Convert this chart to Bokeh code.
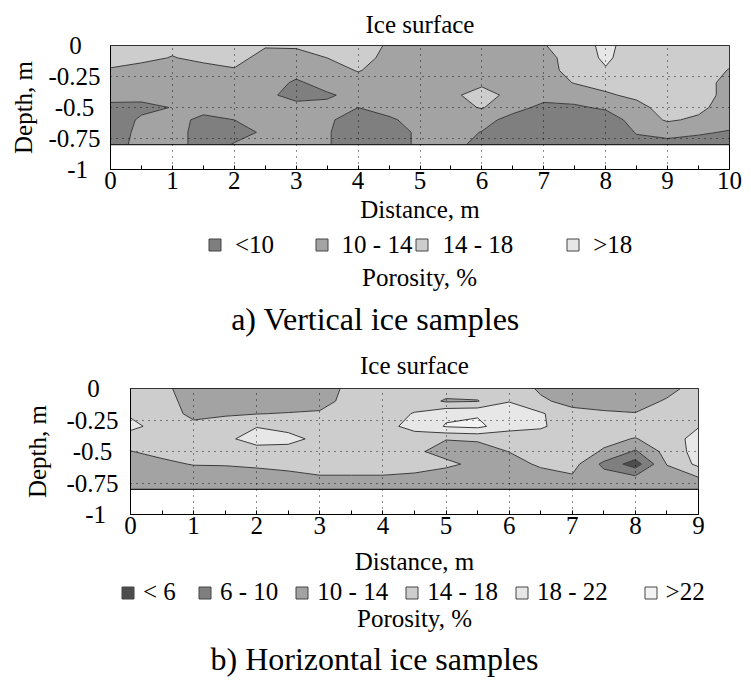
import numpy as np
from bokeh.plotting import figure
from bokeh.models import (Range1d, FixedTicker, Legend, LegendItem, Label)
from bokeh.embed import file_html
from bokeh.resources import INLINE

FONT = "Liberation Serif"
NBSP = "\u00a0"
PAGE_W = 751

# ---------------- Panel a: vertical ice samples ----------------
distance_a = [0, 0.5, 1, 1.5, 2, 2.5, 3, 3.5, 4, 4.5, 5, 5.5, 6, 6.5, 7,
              7.5, 8, 8.5, 9, 9.5, 10]
depth_a = [0, 0.1, 0.2, 0.3, 0.4, 0.5, 0.6, 0.7, 0.8]
# porosity (%) profiles, one list per distance, top -> bottom
porosity_a_cols = [
    [16, 16, 13.5, 12, 11, 9.3, 8, 8, 8],
    [16, 15, 12.5, 12, 11, 9.2, 10.5, 11, 11.5],
    [15, 13.8, 12.5, 12, 11.5, 10.1, 11, 11.5, 11.5],
    [16, 15, 12.5, 12, 12, 11, 9.3, 8.5, 8.5],
    [16, 16, 13.5, 12, 12, 11.5, 10, 9, 10.2],
    [14.5, 12, 12, 12, 12, 11.5, 10.8, 10.4, 11],
    [14.5, 12.5, 11.5, 9.4, 7, 13, 12, 11.5, 11.5],
    [16, 14, 12, 11.5, 9.5, 11, 10.5, 10.3, 10.3],
    [16, 16, 14.3, 12, 11.2, 10, 8.5, 8, 8],
    [13.5, 12.5, 12, 12, 11.8, 11, 9.6, 9, 9],
    [13, 12.5, 12, 12, 12, 12, 11, 10.4, 10.4],
    [13, 12.5, 12, 12, 13, 12.5, 11.5, 11, 11],
    [13, 12.5, 12, 13, 16, 14.3, 11, 9.9, 9],
    [13, 12.5, 12, 12, 12.5, 11, 9, 8, 8],
    [13.8, 12.5, 12, 12, 11, 9.3, 8, 7.5, 7.5],
    [16, 16, 16, 14.2, 11.5, 9.5, 8, 7.5, 7.5],
    [19, 18.6, 17.7, 15.5, 13.4, 10.5, 8, 7.5, 7.5],
    [16, 16, 16, 16, 15, 12.5, 11.5, 10.2, 9],
    [16, 16, 16, 16, 16, 16, 14.5, 11, 9],
    [16, 16, 16, 16, 16, 15, 13.3, 10.3, 9],
    [16, 15, 13.8, 12.5, 12.5, 12, 11, 9.8, 9],
]
levels_a = [0, 10, 14, 18, 40]
classes_a = ["<10", "10 - 14", "14 - 18", ">18"]
colors_a = ["#7f7f7f", "#a3a3a3", "#cdcdcd", "#e7e7e7"]

# ---------------- Panel b: horizontal ice samples ----------------
distance_b = [0, 0.5, 1, 1.5, 2, 2.5, 3, 3.5, 4, 4.5, 5, 5.5, 6, 6.5, 7,
              7.5, 8, 8.5, 9]
depth_b = [0, 0.1, 0.2, 0.3, 0.4, 0.5, 0.6, 0.7, 0.8]
porosity_b_cols = [
    [16, 16, 17.5, 19, 16, 13.9, 12, 12, 12],
    [15, 15.5, 16, 16.5, 16, 15, 13.2, 12, 12],
    [12, 12.5, 13, 15, 16, 16, 14.2, 12, 12],
    [12, 12, 13.5, 16, 17, 16, 14.3, 12, 12],
    [12, 12, 13.9, 17.8, 20, 16, 14.9, 12, 12],
    [12, 12, 14.2, 16.5, 19.5, 16, 15.2, 13, 12],
    [12, 12.5, 14.5, 16, 16.7, 16, 15.5, 13.8, 12],
    [15.1, 15.5, 16, 16, 16, 16, 15.5, 13.8, 12],
    [16, 16, 16.5, 17, 16, 16, 15.5, 13.8, 12],
    [16, 16.5, 18.2, 19, 16.5, 15, 15.2, 13.5, 12],
    [16, 13.5, 21.2, 22.3, 14.2, 12, 15.3, 11, 12],
    [16, 13.8, 21.5, 23, 14.6, 12, 12.5, 12, 12],
    [16, 17.8, 20.5, 19.5, 15.5, 14.1, 12, 12, 12],
    [13.5, 14.5, 18.5, 18.5, 16, 16, 14.8, 12, 12],
    [12, 13, 15, 16, 16, 16, 15.5, 13.6, 12],
    [12, 12.5, 14.5, 16, 15, 13.6, 9, 11.5, 12],
    [12, 12, 14.2, 16, 13.8, 9.5, 4, 10.5, 12],
    [12.5, 14.5, 16, 16, 16, 15.5, 14.2, 12, 12],
    [16, 16, 16, 17.8, 19.5, 19.5, 19, 14.1, 12],
]
levels_b = [0, 6, 10, 14, 18, 22, 40]
classes_b = ["< 6", "6 - 10", "10 - 14", "14 - 18", "18 - 22", ">22"]
colors_b = ["#4d4d4d", "#7f7f7f", "#a3a3a3", "#cdcdcd", "#e7e7e7", "#f3f3f3"]

depth_ticks = [0, -0.25, -0.5, -0.75, -1]
depth_tick_labels = ["0", "-0.25", "-0.5", "-0.75", "-1"]
# trailing padding so that the right-aligned labels sit centred as in the original
depth_label_pad = [3, 0, 1, 0, 2]


def make_panel(distance, depth, cols, levels, colors, x_max,
               frame_w, frame_h, border_left, border_top, border_bottom,
               title_standoff, ylabel_standoff, xlabel_standoff, ytick_standoff):
    p = figure(output_backend="svg", toolbar_location=None,
               frame_width=frame_w, frame_height=frame_h,
               min_border_left=border_left,
               min_border_right=PAGE_W - border_left - frame_w,
               min_border_top=border_top, min_border_bottom=border_bottom,
               x_range=Range1d(0, x_max), y_range=Range1d(-1, 0),
               title="Ice surface")
    p.background_fill_color = "white"
    p.border_fill_color = "white"
    p.outline_line_color = "black"
    p.outline_line_width = 1

    p.title.align = "center"
    p.title.text_font = FONT
    p.title.text_font_size = "25px"
    p.title.text_font_style = "normal"
    p.title.text_color = "black"
    p.title.standoff = title_standoff

    x = np.array(distance, dtype=float)
    y = -np.array(depth, dtype=float)[::-1]
    z = np.array(cols, dtype=float).T[::-1, :]
    p.contour(x=x, y=y, z=z, levels=levels, fill_color=colors,
              line_color="#3a3a3a", line_width=1)
    p.line(x=[distance[0], distance[-1]], y=[-depth[-1], -depth[-1]],
           line_color="#222222", line_width=1.2)

    xt = list(range(0, int(x_max) + 1))
    p.xaxis.ticker = FixedTicker(ticks=xt, minor_ticks=[t + 0.5 for t in xt[:-1]])
    p.yaxis.ticker = FixedTicker(ticks=depth_ticks)
    p.yaxis.major_label_overrides = {
        t: lab + NBSP * n
        for t, lab, n in zip(depth_ticks, depth_tick_labels, depth_label_pad)}
    for ax in (p.xaxis[0], p.yaxis[0]):
        ax.major_label_text_font = FONT
        ax.major_label_text_font_size = "25px"
        ax.axis_label_text_font = FONT
        ax.axis_label_text_font_size = "25px"
        ax.axis_label_text_font_style = "normal"
        ax.axis_line_color = "black"
        ax.major_label_text_color = "black"
        ax.axis_label_text_color = "black"
    p.xaxis.axis_label = "Distance, m"
    p.yaxis.axis_label = "Depth, m"
    p.xaxis.major_tick_in = 4
    p.xaxis.major_tick_out = 0
    p.xaxis.minor_tick_in = 4
    p.xaxis.minor_tick_out = 0
    p.xaxis.major_tick_line_color = "black"
    p.xaxis.minor_tick_line_color = "black"
    p.xaxis.major_label_standoff = 2
    p.xaxis.axis_label_standoff = xlabel_standoff
    p.yaxis.major_tick_in = 0
    p.yaxis.major_tick_out = 0
    p.yaxis.minor_tick_line_color = None
    p.yaxis.major_label_standoff = ytick_standoff
    p.yaxis.axis_label_standoff = ylabel_standoff

    for g in (p.xgrid[0], p.ygrid[0]):
        g.grid_line_color = "black"
        g.grid_line_dash = "1 5"
        g.grid_line_width = 1
        g.grid_line_alpha = 0.85
        g.level = "overlay"
    return p


def make_strip(height, classes, colors, leg_x, leg_center, leg_standoff,
               leg_label_w, leg_spacing, por_x, por_y, caption, cap_x, cap_y):
    s = figure(output_backend="svg", toolbar_location=None,
               width=PAGE_W, height=height, min_border=0,
               x_axis_type=None, y_axis_type=None,
               x_range=Range1d(0, 1), y_range=Range1d(0, 1))
    s.outline_line_color = None
    s.background_fill_color = "white"
    s.border_fill_color = "white"
    items = []
    for lab, col in zip(classes, colors):
        # legend proxy, kept outside the visible range
        r = s.quad(left=[-3], right=[-2], top=[-2], bottom=[-3], fill_color=col,
                   line_color="#454545", line_width=1)
        items.append(LegendItem(label=lab, renderers=[r]))
    item_h = 26
    leg = Legend(items=items, location=(leg_x, height - leg_center - item_h / 2),
                 orientation="horizontal",
                 background_fill_alpha=0, border_line_alpha=0,
                 padding=0, margin=0, spacing=leg_spacing,
                 glyph_width=15, glyph_height=15, label_height=item_h,
                 label_width=leg_label_w, label_standoff=leg_standoff,
                 label_text_font=FONT, label_text_font_size="25px",
                 label_text_color="black")
    s.add_layout(leg)
    s.add_layout(Label(x=por_x, y=height - por_y, x_units="screen",
                       y_units="screen", text="Porosity, %", text_font=FONT,
                       text_font_size="25px", text_color="black",
                       text_align="center", text_baseline="middle"))
    s.add_layout(Label(x=cap_x, y=height - cap_y, x_units="screen",
                       y_units="screen", text=caption, text_font=FONT,
                       text_font_size="32px", text_color="black",
                       text_align="center", text_baseline="middle"))
    return s


classes_a_disp = [classes_a[0] + NBSP * 6, classes_a[1],
                  classes_a[2] + NBSP * 8, classes_a[3]]
classes_b_disp = classes_b[:4] + [classes_b[4] + NBSP * 3, classes_b[5]]

# panel a occupies y 0..229, its legend strip 229..340
pa = make_panel(distance_a, depth_a, porosity_a_cols, levels_a, colors_a, 10,
                619, 124, 110, 45, 60, 16, 8, 4, 10)
sa = make_strip(111, classes_a_disp, colors_a, 207, 16.5, 13, 0, 2,
                419, 48, "a) Vertical ice samples", 375, 89)
# panel b occupies y 340..576, its legend strip 576..685
pb = make_panel(distance_b, depth_b, porosity_b_cols, levels_b, colors_b, 9,
                568, 126, 130, 48, 62, 19, 12, 11, 12)
sb = make_strip(109, classes_b_disp, colors_b, 120, 16, 8, 38, 16,
                414, 41, "b) Horizontal ice samples", 374, 81)

open("out.html", "w").write(file_html([pa, sa, pb, sb], INLINE))
